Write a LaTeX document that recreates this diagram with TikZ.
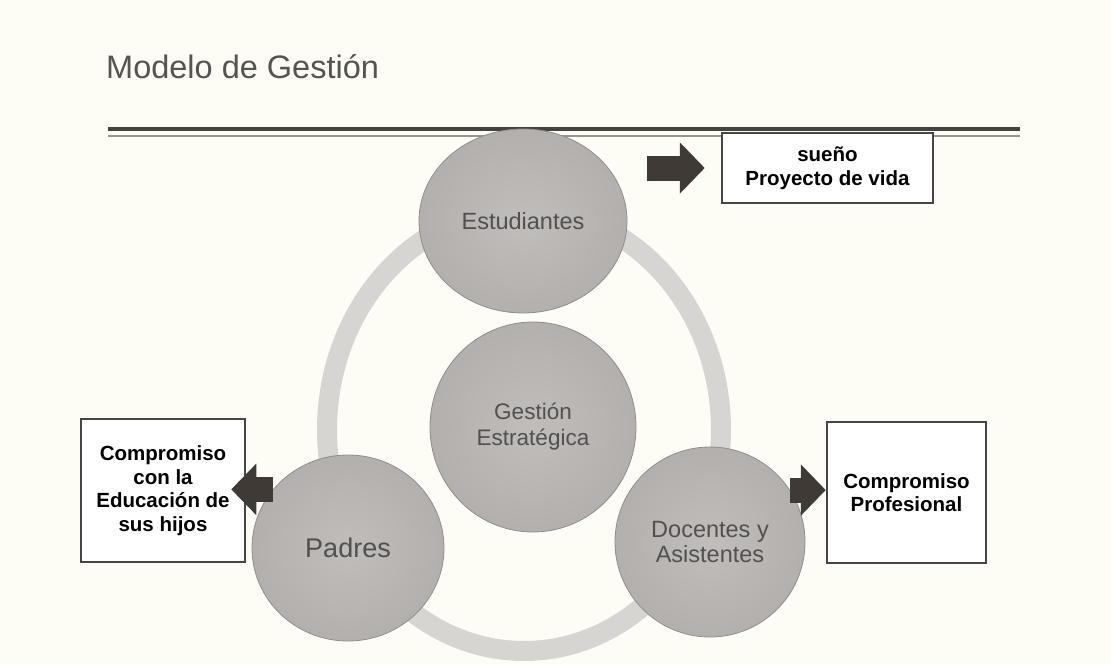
\documentclass[tikz,border=0pt]{standalone}
\usepackage{fontspec}
\setmainfont{Liberation Sans}
\usetikzlibrary{shapes.geometric,arrows.meta}
\definecolor{fondo}{RGB}{253,253,245}
\definecolor{titulo}{RGB}{84,84,80}
\definecolor{linea}{RGB}{68,68,60}
\definecolor{lineafina}{RGB}{150,150,140}
\definecolor{anillo}{RGB}{214,213,209}
\definecolor{bolain}{RGB}{192,189,187}
\definecolor{bolaout}{RGB}{166,162,160}
\definecolor{borde}{RGB}{145,141,139}
\definecolor{texto}{RGB}{82,80,79}
\definecolor{flecha}{RGB}{64,58,55}
\definecolor{marco}{RGB}{70,70,68}
\pgfdeclareradialshading{bola}{\pgfpoint{0bp}{0bp}}{color(0bp)=(bolain); color(50bp)=(bolaout)}
\begin{document}
\begin{tikzpicture}[x=1pt,y=-1pt,
    bola/.style={ellipse,shading=bola,draw=borde,line width=0.8pt,inner sep=0pt,align=center,text=texto},
    caja/.style={rectangle,draw=marco,line width=2.5pt,fill=white,inner sep=0pt,align=center,
        font=\bfseries\fontsize{20.5}{23.5}\selectfont},
    flechota/.style={draw=flecha,line width=25pt,-{Triangle[width=50pt,length=25pt]}}]
    \fill[fondo] (0,0) rectangle (1111,664);
    \useasboundingbox (0,0) rectangle (1111,664);

    \node[anchor=base west,text=titulo,inner sep=0pt,font=\fontsize{32.5}{39}\selectfont]
        (titulo) at (106,78) {Modelo de Gestión};
    \draw[linea,line width=4pt] (108,128.5) -- (1020,128.5);
    \draw[lineafina,line width=1.5pt] (108,136) -- (1020,136);

    \draw[anillo,line width=20pt] (524,430) ellipse [x radius=197,y radius=221];

    \node[bola,minimum width=208pt,minimum height=184pt,font=\fontsize{23.5}{25}\selectfont]
        (estud) at (523,221) {Estudiantes};
    \node[bola,minimum width=206pt,minimum height=210pt,font=\fontsize{22.5}{26}\selectfont]
        (gestion) at (533,427) {Gestión\\Estratégica};
    \node[bola,minimum width=192pt,minimum height=186pt,font=\fontsize{27}{30}\selectfont]
        (padres) at (348,548) {Padres};
    \node[bola,minimum width=190pt,minimum height=190pt,font=\fontsize{23.5}{25}\selectfont]
        (docentes) at (710,542) {Docentes y\\Asistentes};

    \node[caja,minimum width=211pt,minimum height=70pt]
        (suenio) at (827.5,168) {sueño\\Proyecto de vida};
    \node[caja,minimum width=164pt,minimum height=143pt]
        (hijos) at (163,490.5) {Compromiso\\con la\\Educación de\\sus hijos};
    \node[caja,minimum width=159pt,minimum height=141pt]
        (profesional) at (906.5,492.5) {Compromiso\\Profesional};

    \coordinate (inicio) at (647,168);
    \draw[flechota,shorten >=16pt] (inicio) -- (inicio -| suenio.west);
    \draw[flechota,shorten >=-15pt] (padres.142) -- (padres.142 -| hijos.east);
    \draw[flechota] (docentes.33) -- (docentes.33 -| profesional.west);
\end{tikzpicture}
\end{document}
